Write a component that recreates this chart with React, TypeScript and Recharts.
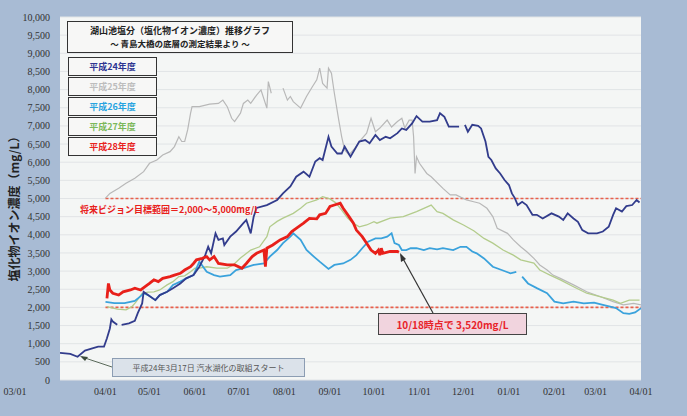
import { LineChart, Line, XAxis, YAxis, CartesianGrid, ReferenceLine } from 'recharts';

// day 0 = 03/01, values in mg/L
const monthTicks = [0, 31, 61, 92, 122, 153, 184, 214, 245, 275, 306, 337, 365, 396];
const monthLabels = ['03/01', '04/01', '05/01', '06/01', '07/01', '08/01', '09/01', '10/01', '11/01', '12/01', '01/01', '02/01', '03/01', '04/01'];
const valueTicks = [0, 500, 1000, 1500, 2000, 2500, 3000, 3500, 4000, 4500, 5000, 5500, 6000, 6500, 7000, 7500, 8000, 8500, 9000, 9500, 10000];
const targetRange = [2000, 5000];
const targetDays = [31, 396];

const h24 = [
  [0, 750], [7, 720], [12, 640], [17, 810], [22, 870], [26, 920], [30, 920], [32, 1150], [34, 1420], [35, 1670],
  [36, 1610], [39, 1520], [41, null], [42, 1520], [47, 1560], [51, 1630], [53, 1840], [56, 2110], [57, 2430],
  [60, 2340], [65, 2200], [68, 2340], [73, 2430], [77, 2530], [82, 2660], [86, 2800], [91, 2890], [95, 3120],
  [99, 3440], [101, 3670], [103, 3490], [106, 4040], [108, 3860], [111, 3900], [112, 3720], [116, 3950],
  [120, 4090], [125, 4320], [127, 4410], [130, 4040], [132, 4500], [134, 4740], [141, 4820], [148, 4960],
  [152, 5140], [157, 5330], [161, 5600], [166, 5740], [170, 5600], [174, 6020], [177, 6110], [179, 6060],
  [183, 6700], [185, 6430], [189, 6240], [192, 6240], [194, 6430], [198, 6150], [204, 6570], [208, 6610],
  [211, 6520], [215, 6750], [218, 6610], [222, 6700], [225, 6660], [230, 6800], [233, 6930], [236, 6890],
  [240, 7070], [243, 7270], [247, 7120], [252, 7120], [257, 7160], [259, 7350], [262, 7250], [265, 6980],
  [272, 6980], [274, null], [276, 7030], [278, 6840], [281, 7030], [285, 7000], [287, 6930], [290, 6570],
  [292, 6150], [294, 6060], [297, 5830], [300, 5690], [303, 5510], [306, 5370], [308, 5140], [310, 5010],
  [312, 4820], [315, 4910], [318, 4820], [322, 4550], [325, 4550], [329, 4450], [335, 4590], [340, 4500],
  [343, 4410], [346, 4590], [350, 4450], [353, 4360], [356, 4130], [360, 4040], [366, 4040], [370, 4090],
  [374, 4220], [377, 4550], [379, 4730], [383, 4640], [386, 4790], [390, 4820], [393, 4960], [395, 4890],
];

const h25 = [
  [31, 5010], [34, 5140], [40, 5280], [45, 5420], [51, 5560], [57, 5740], [61, 5970], [66, 6060], [70, 6200],
  [75, 6290], [78, 6430], [81, 6700], [83, 6570], [85, 6570], [87, 6890], [89, 7350], [90, 7530], [95, 7530],
  [102, 7600], [108, 7620], [111, 7710], [114, 7530], [117, 7210], [119, 7120], [123, 7350], [125, 7620],
  [128, 7710], [130, 7620], [134, 7850], [137, 7990], [141, 7490], [142, 8220], [144, 7900], [148, null],
  [152, 8040], [155, 7710], [157, 7810], [159, 7670], [164, 7490], [168, 7810], [172, 8080], [175, 8270],
  [177, 8590], [179, 8170], [182, 8040], [183, 8590], [185, 8450], [187, 7900], [190, 7160], [192, 6700],
  [194, 6340], [197, 6200], [201, 6390], [204, 6570], [209, 6800], [212, 7210], [215, 6840], [218, 6940],
  [223, 7160], [226, 6970], [230, 7120], [233, 7210], [235, 6940], [238, 7160], [240, 7160], [241, 6700],
  [242, 5690], [243, 6150], [245, 5970], [250, 5690], [253, 5600], [261, 5280], [266, 5100], [270, 5100],
  [277, 4960], [282, 4910], [286, 4870], [291, 4730], [295, 4500], [298, 4180], [305, 4040], [309, 3860],
  [314, 3670], [318, 3540], [323, 3350], [327, 3170], [332, 3030], [336, 2890], [341, 2800], [350, 2620],
  [359, 2430], [368, 2300], [377, 2160], [384, 2070], [391, 2110], [396, 2070],
];

const h26 = [
  [31, 2150], [37, 2120], [44, 2120], [51, 2180], [55, 2310], [57, 2390], [60, 2340], [65, 2200], [68, 2340],
  [73, 2430], [77, 2620], [82, 2710], [86, 2800], [91, 2890], [95, 3260], [100, 2980], [105, 2890], [109, 2850],
  [116, 2890], [120, 3030], [125, 3080], [132, 3170], [139, 3210], [143, 3400], [148, 3580], [152, 3770],
  [157, 3950], [159, 4040], [164, 3860], [168, 3580], [173, 3400], [177, 3260], [183, 3060], [187, 3170],
  [193, 3210], [198, 3310], [202, 3440], [206, 3630], [210, 3810], [215, 3900], [219, 3900], [223, 3950],
  [226, 4040], [228, 3770], [231, 3720], [233, 3580], [236, 3580], [239, 3630], [243, 3630], [248, 3580],
  [252, 3630], [257, 3600], [261, 3630], [268, 3580], [273, 3670], [277, 3670], [281, 3540], [284, 3490],
  [289, 3350], [295, 3120], [301, 3030], [307, 2940], [311, 2980], [313, null], [315, 2850], [319, 2660],
  [325, 2530], [332, 2390], [337, 2160], [343, 2110], [350, 2160], [357, 2110], [364, 2130], [370, 2070],
  [375, 2020], [379, 1980], [384, 1840], [388, 1820], [392, 1860], [396, 1980],
];

const h27 = [
  [32, 2020], [39, 1950], [45, 1930], [49, 2020], [52, 2160], [56, 2390], [60, 2420], [64, 2430], [68, 2480],
  [73, 2620], [77, 2710], [81, 2850], [85, 2870], [89, 2980], [92, 3080], [95, 3080], [100, 3120], [107, 3080],
  [114, 3080], [118, 3170], [123, 3360], [130, 3580], [136, 3670], [141, 3950], [143, 4220], [148, 4370],
  [152, 4460], [159, 4590], [164, 4730], [168, 4870], [175, 4960], [179, 5050], [184, 4990], [188, 4880],
  [192, 4680], [196, 4460], [200, 4320], [204, 4220], [209, 4270], [214, 4360], [216, 4320], [225, 4460],
  [234, 4500], [243, 4640], [248, 4730], [253, 4820], [257, 4640], [261, 4590], [268, 4410], [275, 4270],
  [282, 4110], [289, 3900], [295, 3770], [302, 3580], [309, 3440], [314, 3310], [323, 3220], [327, 3030],
  [334, 2890], [341, 2760], [350, 2570], [359, 2390], [368, 2300], [377, 2200], [382, 2110], [388, 2200],
  [395, 2200],
];

const h28 = [
  [32, 2250], [33, 2660], [34, 2480], [36, 2390], [40, 2340], [43, 2430], [48, 2480], [51, 2530], [55, 2480],
  [58, 2570], [61, 2660], [64, 2760], [67, 2710], [70, 2800], [75, 2850], [78, 2890], [82, 2940], [85, 3030],
  [89, 3120], [91, 3210], [93, 3310], [97, 3350], [100, 3400], [102, 3310], [105, 3400], [108, 3210],
  [114, 3170], [119, 3170], [124, 3080], [127, 3210], [131, 3400], [134, 3490], [139, 3580], [140, 3120],
  [141, 3630], [145, 3720], [150, 3860], [155, 3950], [158, 4090], [161, 4180], [166, 4320], [170, 4450],
  [175, 4440], [177, 4550], [181, 4590], [184, 4780], [187, 4820], [191, 4870], [193, 4730], [197, 4500],
  [200, 4320], [202, 4130], [206, 3950], [209, 3770], [212, 3580], [215, 3490], [217, 3580], [218, 3440],
  [219, 3630], [220, 3490], [225, 3540], [230, 3540], [231, 3520],
];

const toPoints = (pairs) => pairs.map(([day, v]) => ({ day, v }));

const series = [
  { name: '平成25年度', data: toPoints(h25), color: '#b8b8b8', width: 1.2 },
  { name: '平成27年度', data: toPoints(h27), color: '#b3cc8c', width: 1.3 },
  { name: '平成26年度', data: toPoints(h26), color: '#3aa2dc', width: 1.8 },
  { name: '平成24年度', data: toPoints(h24), color: '#323c8c', width: 1.8 },
  { name: '平成28年度', data: toPoints(h28), color: '#e8201a', width: 2.8 },
];

const legendItems = [
  { label: '平成24年度', color: '#2e3592' },
  { label: '平成25年度', color: '#bdbdbd' },
  { label: '平成26年度', color: '#28a3e0' },
  { label: '平成27年度', color: '#7cb85a' },
  { label: '平成28年度', color: '#e8231e' },
];

const jp = '"Noto Sans CJK JP", "Noto Sans", sans-serif';
const serif = '"Liberation Serif", "DejaVu Serif", serif';

const MonthTick = (props) => {
  const { x, y, payload } = props;
  const i = monthTicks.indexOf(payload.value);
  const shift = payload.value === 0 ? -45 : 0;
  return (
    <text x={x + shift} y={y} dy="0.71em" textAnchor="middle" fontSize={10} fontFamily={serif} fill="#333">
      {monthLabels[i]}
    </text>
  );
};

const fmt = (v) => v.toLocaleString('en-US');

const box = {
  position: 'absolute',
  background: '#f7f7f6',
  border: '1.5px solid #333',
  boxSizing: 'border-box',
  display: 'flex',
  alignItems: 'center',
  justifyContent: 'center',
  fontFamily: jp,
  fontWeight: 700,
};

export default function App() {
  return (
    <div style={{ position: 'absolute', left: 0, top: 0, width: 687, height: 416, background: '#a8bbd4', overflow: 'hidden' }}>
      <LineChart width={687} height={416} margin={{ top: 17, right: 0, bottom: 6, left: 0 }}>
        <CartesianGrid yAxisId="left" vertical={false} stroke="#e1e4e6" fill="#f4f6f5" fillOpacity={1} />
        <XAxis
          dataKey="day"
          type="number"
          domain={[0, 396]}
          ticks={monthTicks}
          tick={<MonthTick />}
          tickLine={false}
          axisLine={false}
          tickSize={0}
          tickMargin={8}
          height={30}
          interval={0}
          allowDataOverflow
        />
        <YAxis
          yAxisId="left"
          domain={[0, 10000]}
          ticks={valueTicks}
          tickFormatter={fmt}
          tick={{ fontSize: 10, fontFamily: serif, fill: '#333' }}
          tickLine={false}
          axisLine={false}
          tickSize={0}
          tickMargin={10}
          width={60}
          interval={0}
        />
        <YAxis
          yAxisId="right"
          orientation="right"
          domain={[0, 10000]}
          ticks={valueTicks}
          tickFormatter={fmt}
          tick={{ fontSize: 10, fontFamily: serif, fill: '#333', textAnchor: 'start' }}
          tickLine={false}
          axisLine={false}
          tickSize={0}
          tickMargin={11}
          width={46}
          interval={0}
        />
        {targetRange.map((t) => (
          <ReferenceLine
            key={t}
            yAxisId="left"
            segment={[{ x: targetDays[0], y: t }, { x: targetDays[1], y: t }]}
            stroke="#e8604c"
            strokeWidth={1.6}
            strokeDasharray="3 2"
          />
        ))}
        {series.map((s) => (
          <Line
            key={s.name}
            yAxisId="left"
            data={s.data}
            dataKey="v"
            name={s.name}
            stroke={s.color}
            strokeWidth={s.width}
            dot={false}
            type="linear"
            isAnimationActive={false}
          />
        ))}
      </LineChart>

      {/* y axis title */}
      <div
        style={{
          position: 'absolute', left: 13, top: 206, transform: 'translate(-50%, -50%) rotate(-90deg)',
          whiteSpace: 'nowrap', fontFamily: jp, fontWeight: 700, fontSize: 12, color: '#222',
        }}
      >
        塩化物イオン濃度（mg/L）
      </div>

      {/* title box */}
      <div style={{ ...box, left: 67, top: 21, width: 226, height: 32, flexDirection: 'column', fontSize: 9, lineHeight: '12px', color: '#222' }}>
        <div>湖山池塩分（塩化物イオン濃度）推移グラフ</div>
        <div style={{ fontSize: 8.5 }}>～ 青島大橋の底層の測定結果より ～</div>
      </div>

      {legendItems.map((it, i) => (
        <div key={it.label} style={{ ...box, left: 68, top: 57 + i * 20, width: 89, height: 19, fontSize: 9, color: it.color }}>
          {it.label}
        </div>
      ))}

      <div style={{ position: 'absolute', left: 80, top: 203, fontFamily: jp, fontWeight: 700, fontSize: 9, color: '#e8201a', whiteSpace: 'nowrap' }}>
        将来ビジョン目標範囲＝2,000～5,000mg/L
      </div>

      <svg width={687} height={416} style={{ position: 'absolute', left: 0, top: 0, pointerEvents: 'none' }}>
        <line x1={112} y1={367} x2={82} y2={357} stroke="#5a6a5a" strokeWidth={1} />
        <polygon points="80,356 88,357 85,361" fill="#3a4a3a" />
        <line x1={433} y1={313} x2={401} y2={255} stroke="#333" strokeWidth={1.2} />
        <polygon points="400,253 401,262 406,259" fill="#333" />
      </svg>

      <div
        style={{
          position: 'absolute', left: 112, top: 358, width: 193, height: 19, boxSizing: 'border-box',
          background: '#dbe2ea', border: '1px solid #8c9db3', display: 'flex', alignItems: 'center', justifyContent: 'center',
          fontFamily: jp, fontSize: 8, color: '#555', whiteSpace: 'nowrap',
        }}
      >
        平成24年3月17日 汽水湖化の取組スタート
      </div>

      <div
        style={{
          ...box, left: 378, top: 313, width: 149, height: 22, background: '#f1d4de', border: '1.5px solid #444',
          fontSize: 10, color: '#e8232a', whiteSpace: 'nowrap',
        }}
      >
        10/18時点で 3,520mg/L
      </div>
    </div>
  );
}
